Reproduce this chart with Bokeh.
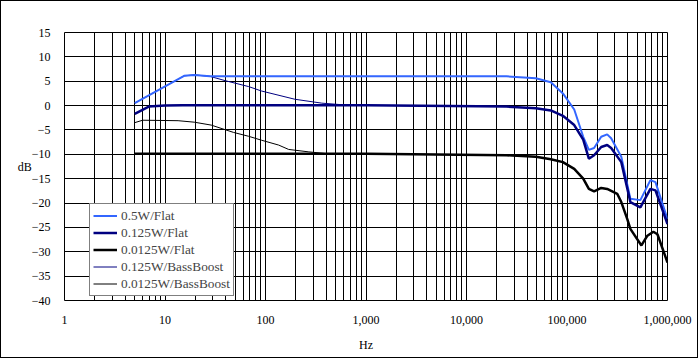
from bokeh.plotting import figure
from bokeh.models import (Range1d, FixedTicker, NumeralTickFormatter, Legend, LegendItem, Label)
from bokeh.embed import file_html
from bokeh.resources import INLINE

# ---------------- data ----------------
freq_05 = [5, 15.5, 19.6, 28, 1000, 25000, 49000, 69000, 91000, 118000, 145000, 165000,
           186000, 219000, 251000, 275000, 347000, 427000, 537000, 676000, 759000, 1000000]
db_05 = [0.5, 6.1, 6.3, 6.0, 6.0, 6.0, 5.6, 4.8, 2.5, -0.8, -6.4, -9.1,
         -8.7, -6.4, -5.9, -6.7, -10.5, -19.1, -19.4, -15.3, -15.7, -23.3]

freq_125 = [5, 6.9, 10, 15, 1000, 25000, 49000, 69000, 91000, 118000, 145000, 165000,
            186000, 219000, 251000, 275000, 347000, 427000, 537000, 676000, 759000, 1000000]
db_125 = [-1.7, -0.2, 0.0, 0.05, 0.05, -0.2, -0.55, -1.0, -2.1, -4.0, -7.0, -10.9,
          -10.2, -8.5, -8.1, -8.7, -11.6, -19.8, -20.9, -17.1, -17.4, -24.3]

freq_0125 = [5, 1000, 25000, 49000, 69000, 91000, 118000, 145000, 165000, 186000, 219000,
             251000, 316000, 347000, 398000, 427000, 550000, 631000, 724000, 794000, 1000000]
db_0125 = [-9.9, -9.9, -10.2, -10.5, -11.0, -11.6, -13.0, -15.0, -17.1, -17.6, -16.9,
           -17.1, -18.1, -19.8, -23.3, -25.3, -28.7, -26.7, -25.9, -26.4, -32.2]

freq_bb125 = [5, 15.5, 19.6, 28, 40, 68, 91, 196, 363, 600, 1000, 25000, 49000, 69000,
              91000, 118000, 145000, 165000, 186000, 219000, 251000, 275000, 347000, 427000,
              537000, 676000, 759000, 1000000]
db_bb125 = [0.5, 6.1, 6.3, 6.0, 5.1, 3.9, 3.0, 1.3, 0.5, 0.15, 0.05, -0.2, -0.55, -1.0,
            -2.1, -4.0, -7.0, -10.9, -10.2, -8.5, -8.1, -8.7, -11.6, -19.8,
            -20.9, -17.1, -17.4, -24.3]

freq_bb0125 = [5, 6.0, 13.5, 19.5, 28.8, 48, 68, 91, 135, 170, 270, 400, 1000, 25000, 49000,
               69000, 91000, 118000, 145000, 165000, 186000, 219000, 251000, 316000, 347000,
               398000, 427000, 550000, 631000, 724000, 794000, 1000000]
db_bb0125 = [-3.5, -3.0, -3.1, -3.4, -4.0, -5.5, -6.3, -7.1, -8.1, -9.0, -9.5, -9.85, -9.9,
             -10.2, -10.5, -11.0, -11.6, -13.0, -15.0, -17.1, -17.6, -16.9, -17.1, -18.1,
             -19.8, -23.3, -25.3, -28.7, -26.7, -25.9, -26.4, -32.2]

names = ["0.5W/Flat", "0.125W/Flat", "0.0125W/Flat", "0.125W/BassBoost", "0.0125W/BassBoost"]
colors = ["#3366FF", "#000080", "#000000", "#000080", "#000000"]
widths = [2, 2.5, 2.5, 1, 1]

x_ticks = [1, 10, 100, 1000, 10000, 100000, 1000000]
x_minor = [m * 10 ** e for e in range(0, 6) for m in range(2, 10)]
y_ticks = list(range(-40, 16, 5))

FONT = "Liberation Serif"

# 1px CSS border around a 696x356 canvas -> 698x358 in total
p = figure(width=696, height=356, x_axis_type="log", output_backend="svg",
           toolbar_location=None, x_range=Range1d(1, 1000000), y_range=Range1d(-40, 15),
           min_border_left=63, min_border_right=32, min_border_top=31, min_border_bottom=59)
p.styles = {"border": "1px solid black", "box-sizing": "content-box"}
p.background_fill_color = "white"
p.border_fill_color = "white"
p.outline_line_color = "black"
p.outline_line_width = 1

xt = FixedTicker(ticks=x_ticks, minor_ticks=x_minor)
p.xaxis.ticker = xt
p.xgrid.ticker = xt
p.xaxis.formatter = NumeralTickFormatter(format="0,0")
yt = FixedTicker(ticks=y_ticks)
p.yaxis.ticker = yt
p.ygrid.ticker = yt

for g in (p.xgrid, p.ygrid):
    g.grid_line_color = "black"
    g.grid_line_width = 1
    g.grid_line_alpha = 1
p.xgrid.minor_grid_line_color = "black"
p.xgrid.minor_grid_line_width = 1

for ax in (p.xaxis, p.yaxis):
    ax.axis_line_color = None
    ax.major_tick_line_color = None
    ax.minor_tick_line_color = None
    ax.major_label_text_font = FONT
    ax.major_label_text_font_size = "12px"
    ax.major_label_text_color = "black"
    ax.axis_label_text_font = FONT
    ax.axis_label_text_font_style = "normal"
    ax.axis_label_text_font_size = "12px"
    ax.axis_label_text_color = "black"
p.yaxis.major_label_standoff = 8
p.xaxis.major_label_standoff = 9
p.xaxis.axis_label = "Hz"
p.xaxis.axis_label_standoff = 11

try:
    p.yaxis[0].axis_label_orientation = "horizontal"
    p.yaxis.axis_label = "dB"
    p.yaxis.axis_label_standoff = -3
except Exception:
    p.add_layout(Label(x=21, y=164, x_units="screen", y_units="screen", text="dB",
                       text_font=FONT, text_font_size="12px", text_align="center",
                       text_baseline="middle", text_color="black"))

xs = [freq_05, freq_125, freq_0125, freq_bb125, freq_bb0125]
ys = [db_05, db_125, db_0125, db_bb125, db_bb0125]
renderers = [None] * 5
for i in [3, 4, 0, 1, 2]:
    renderers[i] = p.line(xs[i], ys[i], line_color=colors[i], line_width=widths[i])

legend = Legend(items=[LegendItem(label=names[i], renderers=[renderers[i]]) for i in range(5)],
                location=(25, 4))
legend.label_text_font = FONT
legend.label_text_font_size = "13.3px"
legend.label_height = 17
legend.glyph_height = 17
legend.glyph_width = 24
legend.spacing = 0
legend.padding = 3
legend.margin = 0
legend.label_standoff = 4
legend.border_line_color = "black"
legend.border_line_width = 1
legend.background_fill_color = "white"
legend.background_fill_alpha = 1
p.add_layout(legend)

open("out.html", "w").write(file_html(p, INLINE))
